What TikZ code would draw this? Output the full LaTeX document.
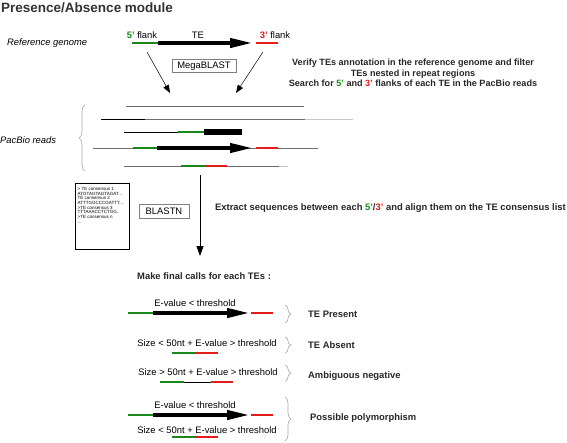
\documentclass[tikz,border=0pt]{standalone}
\usepackage{fontspec}
\setmainfont{Liberation Sans}
\usetikzlibrary{arrows.meta, decorations.pathreplacing}
\definecolor{flankgreen}{RGB}{25,135,25}
\definecolor{flankred}{RGB}{228,28,28}
\definecolor{readgray}{RGB}{110,110,110}
\tikzset{
        every node/.style={font=\fontsize{9.4}{10.4}\selectfont, inner sep=0pt},
        flankfive/.style={draw=flankgreen, line width=2pt},
        flankthree/.style={draw=flankred, line width=2pt},
        read/.style={draw=readgray, line width=1pt},
        readblack/.style={draw=black, line width=0.9pt},
        readfaint/.style={draw=gray!45, line width=1pt},
        teline/.style={draw=black, line width=4pt, -{Triangle[length=23pt,width=9pt]}},
        tebox/.style={draw=black, line width=6pt},
        thinarrow/.style={draw=black, line width=0.5pt, -{Triangle[length=8pt,width=6pt]}},
        downarrow/.style={draw=black, line width=0.8pt, -{Triangle[length=10pt,width=7pt]}},
        toolbox/.style={draw=gray, line width=0.8pt, minimum height=12.5pt},
        callbrace/.style={draw=gray!70, line width=0.6pt, decorate, decoration={brace, amplitude=6pt}},
        callname/.style={anchor=west, font=\fontsize{9.4}{10.4}\selectfont\bfseries, text=black!85}
        }
\newcommand{\fivep}{{\color{flankgreen}\bfseries 5'}}
\newcommand{\threep}{{\color{flankred}\bfseries 3'}}

\begin{document}
\begin{tikzpicture}[x=1pt, y=-1pt]
        \useasboundingbox (0,0) rectangle (567,442);
        \node[anchor=west, font=\fontsize{13.5}{15}\selectfont\bfseries, text=black!80](title) at (1,8) {Presence/Absence module};

        % reference genome
        \node[anchor=west, font=\fontsize{9.4}{10.4}\selectfont\itshape](refgenome) at (7,43) {Reference genome};
        \draw[flankfive] (132,43) -- (158,43);
        \draw[teline] (158,43) -- (253,43);
        \draw[flankthree] (256,43) -- (278,43);
        \node(lfive) at (142,35) {\fivep\ flank};
        \node(lte) at (198,35) {TE};
        \node(lthree) at (275,35) {\threep\ flank};
        \node[toolbox, minimum width=64pt](mega) at (204,66) {MegaBLAST};
        \coordinate (fivestart) at (147,52);
        \coordinate (fiveend) at (170,93);
        \coordinate (threestart) at (263,52);
        \coordinate (threeend) at (236,93);
        \draw[thinarrow] (fivestart) -- (fiveend);
        \draw[thinarrow] (threestart) -- (threeend);
        \node[align=center, font=\fontsize{9.1}{10.5}\selectfont\bfseries, text=black!85](verify) at (413,73)
              {Verify TEs annotation in the reference genome and filter\\TEs nested in repeat regions\\Search for \fivep\ and \threep\ flanks of each TE in the PacBio reads};

        % PacBio reads
        \node[anchor=west, font=\fontsize{9.4}{10.4}\selectfont\itshape](pacbio) at (0,140) {PacBio reads};
        \draw[callbrace] (85,171) -- (85,105);
        \draw[read] (126,106) -- (304,106);
        \draw[readblack] (101,119) -- (145,119);
        \draw[read] (145,119) -- (305,119);
        \draw[readfaint] (305,119) -- (353,119);
        \draw[readblack] (124,132) -- (178,132);
        \draw[flankfive] (178,132) -- (204,132);
        \draw[tebox] (204,132) -- (242,132);
        \draw[read] (93,148) -- (318,148);
        \draw[flankfive] (133,148) -- (157,148);
        \draw[teline] (157,148) -- (253,148);
        \draw[flankthree] (256,148) -- (278,148);
        \draw[read] (124,166) -- (279,166);
        \draw[readfaint] (279,166) -- (288,166);
        \draw[flankfive] (181,166) -- (205,166);
        \draw[flankthree] (205,166) -- (227,166);

        % consensus and BLASTN
        \node[draw, line width=0.9pt, minimum width=54pt, minimum height=66pt](consbox) at (102,216) {};
        \node[anchor=north west, align=left, font=\fontsize{4.5}{4.7}\selectfont](conslist) at (77.5,187)
              {> TE consensus 1\\ATGTAGTAGTAGAT...\\TE consensus 2\\ATTTGGCCCGATTT...\\>TE consensus 3\\TTTAAACCTCTGG..\\>TE consensus n\\...};
        \node[toolbox, minimum width=50pt, minimum height=14pt](blastn) at (164,211) {BLASTN};
        \coordinate (downstart) at (200,175);
        \coordinate (downend) at (200,256);
        \draw[downarrow] (downstart) -- (downend);
        \node[anchor=west, font=\fontsize{9.4}{10.4}\selectfont\bfseries, text=black!85](extract) at (215,208)
              {Extract sequences between each {\color{flankgreen}5'}/{\color{flankred}3'} and align them on the TE consensus list};

        % final calls
        \node[anchor=west, font=\fontsize{9.4}{10.4}\selectfont\bfseries, text=black!85](calls) at (137,276) {Make final calls for each TEs :};

        \node(presentlbl) at (195,303) {E-value < threshold};
        \draw[flankfive] (128,313) -- (153,313);
        \draw[teline] (153,313) -- (250,313);
        \draw[flankthree] (251,313) -- (273,313);
        \draw[callbrace] (285,305) -- (285,323);
        \node[callname](present) at (308,314) {TE Present};

        \node(absentlbl) at (207,343) {Size < 50nt + E-value > threshold};
        \draw[flankfive] (172,353) -- (195,353);
        \draw[flankthree] (195,353) -- (218,353);
        \draw[callbrace] (285,337) -- (285,353);
        \node[callname](absent) at (308,345) {TE Absent};

        \node(ambiglbl) at (208,372) {Size > 50nt + E-value > threshold};
        \draw[flankfive] (160,382) -- (184,382);
        \draw[readblack] (184,382) -- (211,382);
        \draw[flankthree] (211,382) -- (233,382);
        \draw[callbrace] (285,365) -- (285,381);
        \node[callname](ambig) at (308,376) {Ambiguous negative};

        \node(polylbla) at (195,405) {E-value < threshold};
        \draw[flankfive] (128,415) -- (153,415);
        \draw[teline] (153,415) -- (250,415);
        \draw[flankthree] (251,415) -- (273,415);
        \node(polylblb) at (207,430) {Size < 50nt + E-value > threshold};
        \draw[flankfive] (172,437) -- (196,437);
        \draw[flankthree] (196,437) -- (218,437);
        \draw[callbrace] (285,397) -- (285,441);
        \node[callname](poly) at (310,418) {Possible polymorphism};
      \end{tikzpicture}
\end{document}
